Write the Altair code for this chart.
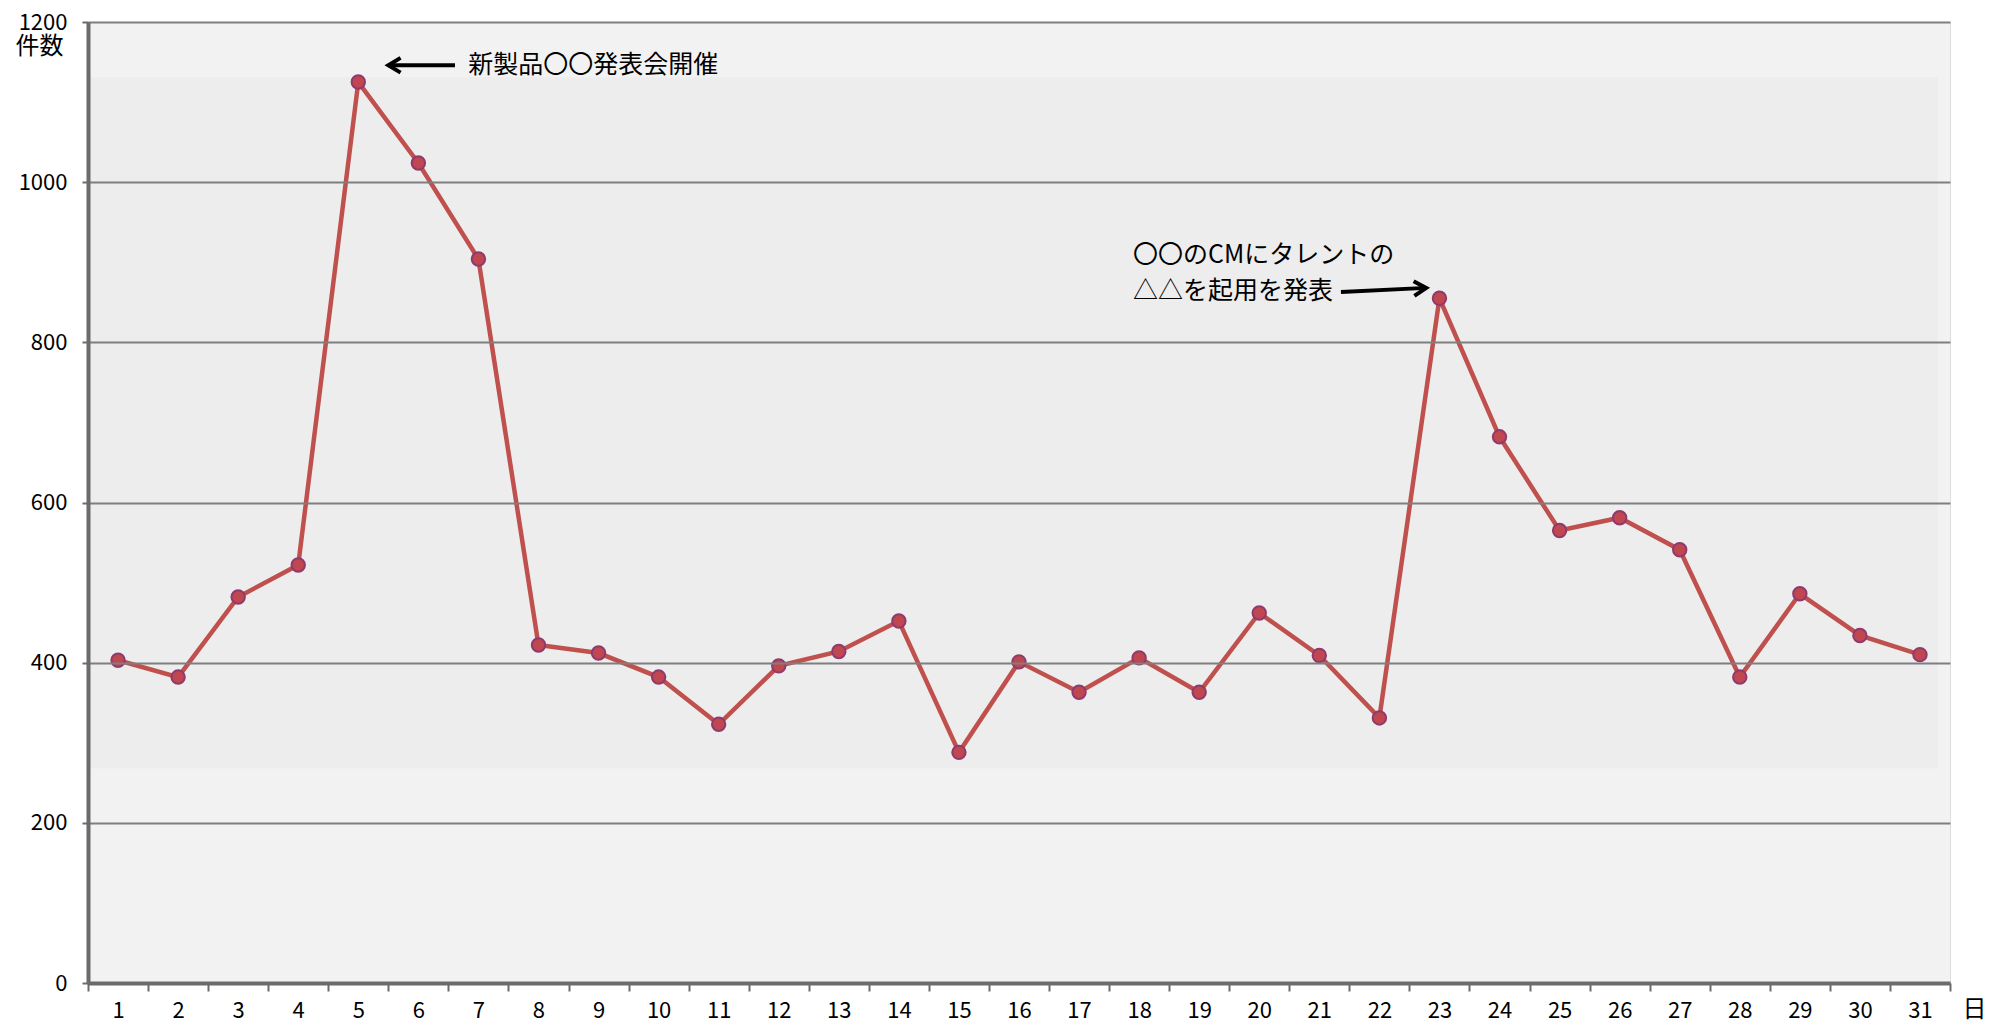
import altair as alt
import pandas as pd

days = list(range(1, 32))
counts = [403, 382, 482, 522, 1125, 1024, 904, 422, 412, 382,
          323, 396, 414, 452, 288, 401, 363, 406, 363, 462,
          409, 331, 855, 682, 565, 581, 541, 382, 486, 434, 410]

y_ticks = [0, 200, 400, 600, 800, 1000, 1200]
x_tick_edges = [d - 0.5 for d in days] + [31.5]

ann_text = ["新製品〇〇発表会開催", "〇〇のCMにタレントの", "△△を起用を発表"]
ann_x = [6.83, 17.9, 17.9]
ann_y = [1146, 909, 864]

arrow_x1 = [6.61, 21.36]
arrow_y1 = [1146, 863]
arrow_x2 = [5.5, 22.78]
arrow_y2 = [1146, 868]
arrow_angle = [180, 357]

bg_lo = [0, 268]
bg_hi = [1200, 1131]
bg_col = ["#f2f2f2", "#ededed"]

FONT = "Noto Sans CJK JP"
W, H = 1862, 961

df = pd.DataFrame({"day": days, "count": counts})
ann = pd.DataFrame({"x": ann_x, "y": ann_y, "text": ann_text})
arr = pd.DataFrame({"x": arrow_x1, "y": arrow_y1, "x2": arrow_x2, "y2": arrow_y2, "angle": arrow_angle})
band = pd.DataFrame({"x": [0.5, 0.5], "x2": [31.5, 31.3], "y": bg_lo, "y2": bg_hi, "c": bg_col})

xscale = alt.Scale(domain=[0.5, 31.5], nice=False, zero=False)
yscale = alt.Scale(domain=[0, 1200], nice=False)

x_axis = alt.Axis(
    values=x_tick_edges,
    labelExpr="datum.value > 31 ? '' : format(datum.value + 0.5, 'd')",
    labelOffset=W / 62,
    grid=False, tickSize=8, tickWidth=2, tickColor="#6b6b6b",
    domainColor="#6b6b6b", domainWidth=4,
    labelFont=FONT, labelFontSize=22, labelColor="#000000", labelPadding=9,
    labelFlush=False, labelOverlap=False,
    title="日", titleFont=FONT, titleFontSize=24, titleFontWeight="normal",
    titleColor="#000000", titleX=W + 24, titleY=14, titleAlign="center",
    titleBaseline="top", titleAngle=0, zindex=2,
)
y_axis = alt.Axis(
    values=y_ticks, format="d", grid=True, gridColor="#7f7f7f", gridWidth=2,
    tickSize=6, tickWidth=2, tickColor="#6b6b6b",
    domainColor="#6b6b6b", domainWidth=4,
    labelFont=FONT, labelFontSize=22, labelColor="#000000", labelPadding=15,
    labelFlush=False,
    title="件数", titleFont=FONT, titleFontSize=24, titleFontWeight="normal",
    titleColor="#000000", titleAngle=0, titleX=-73, titleY=24,
    titleAlign="left", titleBaseline="middle", zindex=1,
)

bg = alt.Chart(band).mark_rect().encode(
    x=alt.X("x:Q", scale=xscale, axis=x_axis),
    x2="x2:Q",
    y=alt.Y("y:Q", scale=yscale, axis=y_axis),
    y2="y2:Q",
    color=alt.Color("c:N", scale=None),
)

line = alt.Chart(df).mark_line(color="#c0504d", strokeWidth=4.5).encode(
    x=alt.X("day:Q", scale=xscale),
    y=alt.Y("count:Q", scale=yscale),
)
pts = alt.Chart(df).mark_point(
    filled=True, size=180, fill="#c0474f", stroke="#8e3a6e", strokeWidth=2, opacity=1
).encode(
    x=alt.X("day:Q", scale=xscale),
    y=alt.Y("count:Q", scale=yscale),
)

text = alt.Chart(ann).mark_text(
    font=FONT, fontSize=25, align="left", baseline="middle", color="#000000"
).encode(
    x=alt.X("x:Q", scale=xscale),
    y=alt.Y("y:Q", scale=yscale),
    text="text:N",
)

shaft = alt.Chart(arr).mark_rule(color="#000000", strokeWidth=4).encode(
    x=alt.X("x:Q", scale=xscale),
    x2="x2:Q",
    y=alt.Y("y:Q", scale=yscale),
    y2="y2:Q",
)
head = alt.Chart(arr).mark_point(
    shape="M -1 -0.6 L 0 0 L -1 0.6", filled=False, size=600,
    stroke="#000000", strokeWidth=4, opacity=1, strokeJoin="miter"
).encode(
    x=alt.X("x2:Q", scale=xscale),
    y=alt.Y("y2:Q", scale=yscale),
    angle=alt.Angle("angle:Q", scale=None),
)

chart = alt.layer(bg, line, pts, shaft, head, text).properties(
    width=W, height=H,
    autosize=alt.AutoSizeParams(type="none"),
    padding={"left": 80, "top": 14, "right": 45, "bottom": 40},
).configure_view(
    stroke="#6b6b6b", strokeWidth=4,
).configure(background="#ffffff")

chart.save("out.html", embed_options={"renderer": "svg", "actions": False})
